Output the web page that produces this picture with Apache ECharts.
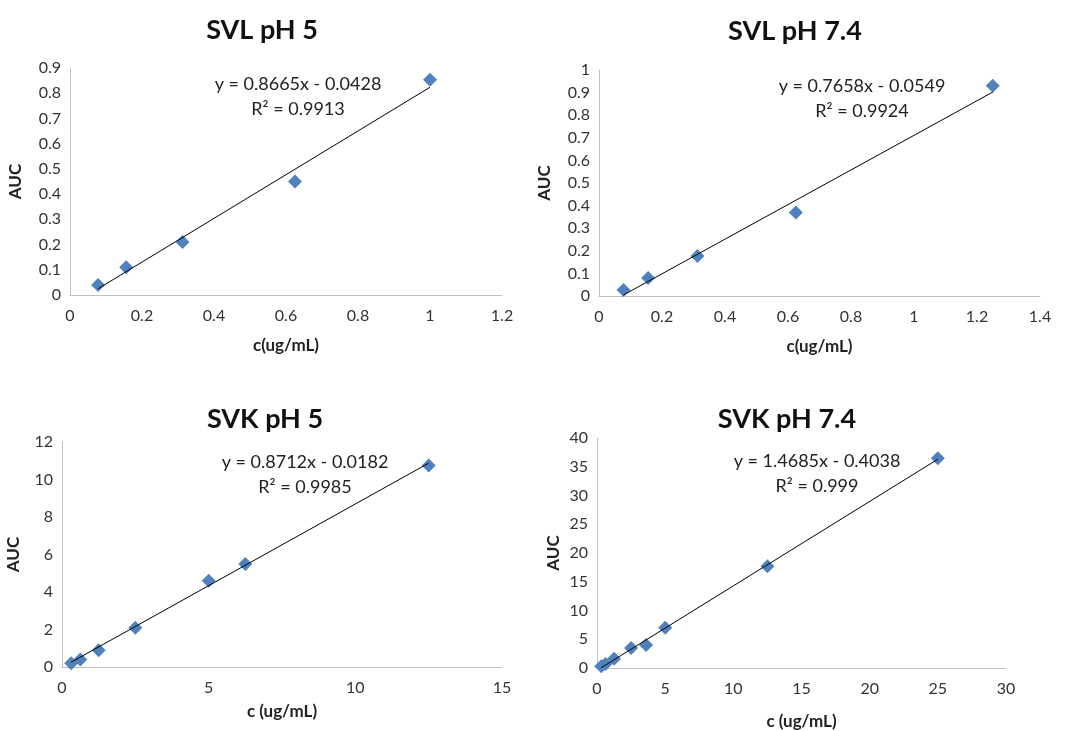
<!DOCTYPE html>
<html>
<head>
<meta charset="utf-8">
<script src="https://cdn.jsdelivr.net/npm/echarts@6/dist/echarts.min.js"></script>
<style>
  html, body { margin: 0; padding: 0; background: #fff; }
  #chart { width: 1072px; height: 731px; }
</style>
</head>
<body>
<div id="chart"></div>
<script>
// panel titles
const titles = ['SVL pH 5', 'SVL pH 7.4', 'SVK pH 5', 'SVK pH 7.4'];
const xNames = ['c(ug/mL)', 'c(ug/mL)', 'c (ug/mL)', 'c (ug/mL)'];

// concentrations and AUC
const svlPh5X = [0.078, 0.156, 0.3125, 0.625, 1.0];
const svlPh5Y = [0.04, 0.11, 0.21, 0.45, 0.853];
const svlPh74X = [0.078, 0.156, 0.3125, 0.625, 1.25];
const svlPh74Y = [0.027, 0.08, 0.177, 0.37, 0.93];
const svkPh5X = [0.3125, 0.625, 1.25, 2.5, 5, 6.25, 12.5];
const svkPh5Y = [0.2, 0.4, 0.9, 2.1, 4.6, 5.5, 10.75];
const svkPh74X = [0.3125, 0.625, 1.25, 2.5, 3.6, 5, 12.5, 25];
const svkPh74Y = [0.3, 0.7, 1.6, 3.5, 4.0, 7.0, 17.7, 36.5];

// linear fits shown on the chart
const slopes = [0.8665, 0.7658, 0.8712, 1.4685];
const intercepts = [-0.0428, -0.0549, -0.0182, -0.4038];
const r2 = ['0.9913', '0.9924', '0.9985', '0.999'];

// axis ranges
const xMax = [1.2, 1.4, 15, 30];
const xStep = [0.2, 0.2, 5, 5];
const yMax = [0.9, 1, 12, 40];
const yStep = [0.1, 0.1, 2, 5];

const xs = [svlPh5X, svlPh74X, svkPh5X, svkPh74X];
const ys = [svlPh5Y, svlPh74Y, svkPh5Y, svkPh74Y];

const grids = [
  { left: 70, top: 68, width: 432, height: 227 },
  { left: 599, top: 70, width: 441, height: 226 },
  { left: 62, top: 442, width: 440, height: 225 },
  { left: 597, top: 438, width: 409, height: 232 }
];
const titlePos = [[257, 12], [790, 13], [260, 401], [782, 401]];
const eqPos = [[298, 97], [862, 99], [305, 475], [817, 474]];
const yNameGap = [46, 46, 40, 35];
const xNameGap = [42, 42, 36, 45];

const font = 'Lato, "Open Sans", sans-serif';
const chart = echarts.init(document.getElementById('chart'));

const xAxis = [], yAxis = [], series = [], title = [], graphic = [];
for (let i = 0; i < 4; i++) {
  xAxis.push({
    gridIndex: i, type: 'value', min: 0, max: xMax[i], interval: xStep[i],
    name: xNames[i], nameLocation: 'middle', nameGap: xNameGap[i],
    nameTextStyle: { fontFamily: font, fontWeight: 'bold', fontSize: 17, color: '#222' },
    axisLine: { lineStyle: { color: '#bfbfbf' } },
    axisTick: { show: false },
    splitLine: { show: false },
    axisLabel: { fontFamily: font, fontSize: 16, color: '#333', margin: 13 }
  });
  yAxis.push({
    gridIndex: i, type: 'value', min: 0, max: yMax[i], interval: yStep[i],
    name: 'AUC', nameLocation: 'middle', nameGap: yNameGap[i],
    nameTextStyle: { fontFamily: font, fontWeight: 'bold', fontSize: 17, color: '#222' },
    axisLine: { show: true, lineStyle: { color: '#bfbfbf' } },
    axisTick: { show: false },
    splitLine: { show: false },
    axisLabel: { fontFamily: font, fontSize: 16, color: '#333', margin: 9 }
  });
  const pts = xs[i].map((x, k) => [x, ys[i][k]]);
  const x0 = Math.min(...xs[i]), x1 = Math.max(...xs[i]);
  series.push({
    type: 'line', xAxisIndex: i, yAxisIndex: i, symbol: 'none', silent: true,
    data: [[x0, slopes[i] * x0 + intercepts[i]], [x1, slopes[i] * x1 + intercepts[i]]],
    lineStyle: { color: '#000', width: 1 }, z: 3
  });
  series.push({
    type: 'scatter', xAxisIndex: i, yAxisIndex: i, data: pts,
    symbol: 'diamond', symbolSize: [14, 14],
    itemStyle: { color: '#4f81bd', opacity: 1 }, z: 2
  });
  title.push({
    text: titles[i], left: titlePos[i][0], top: titlePos[i][1], textAlign: 'center',
    textStyle: { fontFamily: font, fontWeight: 'bold', fontSize: 27, color: '#111' }
  });
  const sign = intercepts[i] < 0 ? ' - ' : ' + ';
  graphic.push({
    type: 'text', x: eqPos[i][0], y: eqPos[i][1],
    style: {
      text: 'y = ' + slopes[i] + 'x' + sign + Math.abs(intercepts[i]) + '\nR² = ' + r2[i],
      font: '18px ' + font, fill: '#222', align: 'center', verticalAlign: 'middle',
      lineHeight: 25
    }
  });
}

chart.setOption({
  animation: false,
  title: title,
  grid: grids,
  xAxis: xAxis,
  yAxis: yAxis,
  series: series,
  graphic: graphic
});
</script>
</body>
</html>
